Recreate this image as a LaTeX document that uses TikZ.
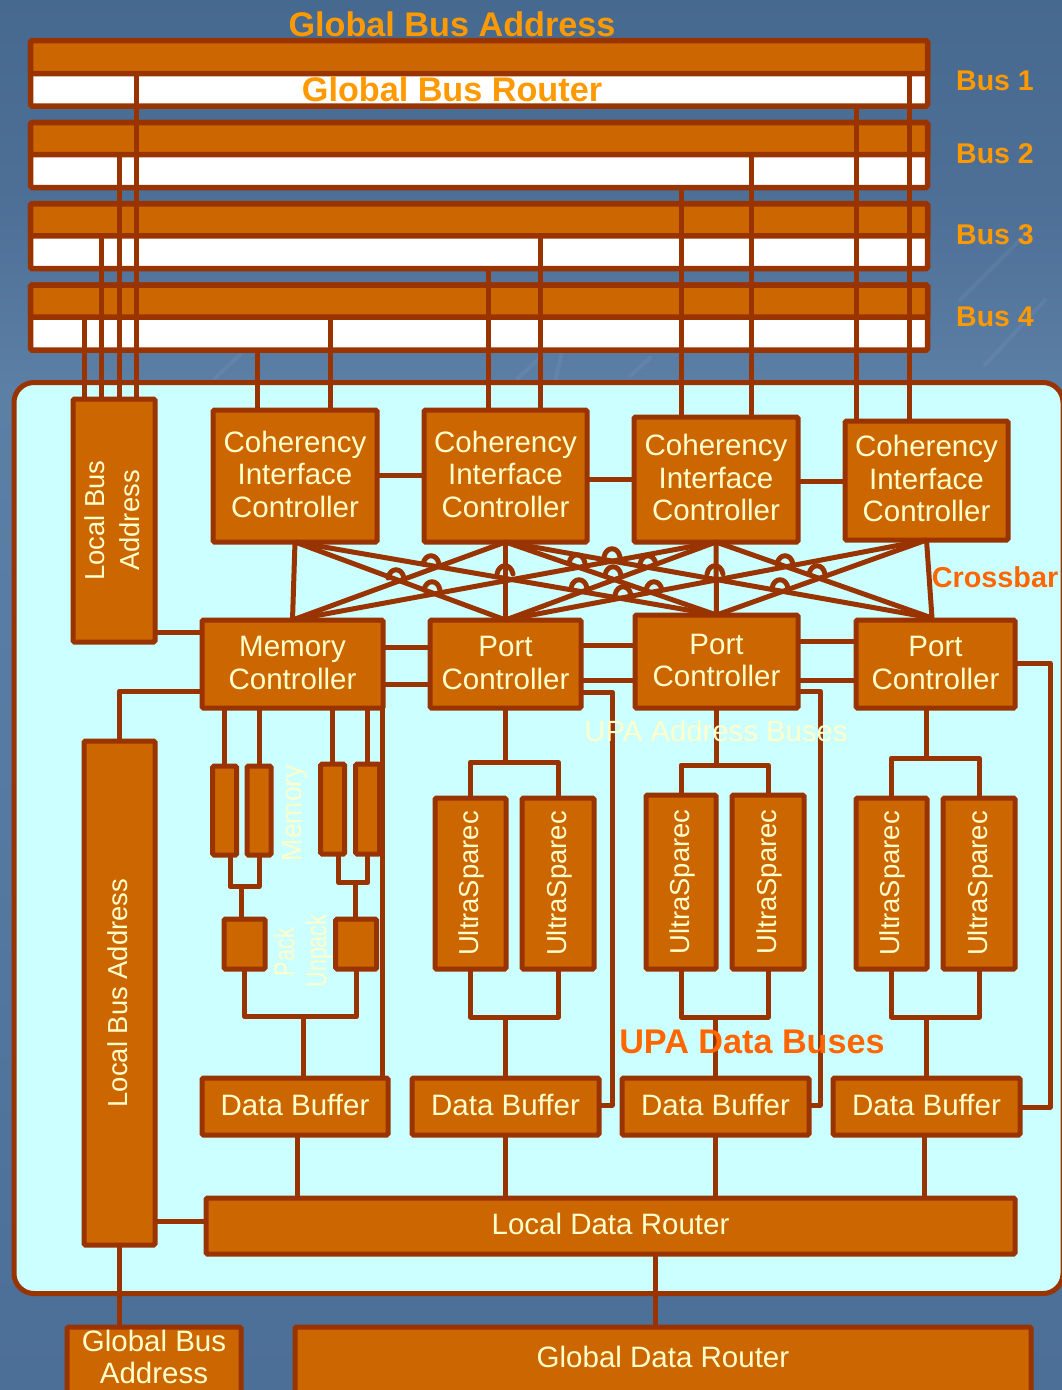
\documentclass[tikz,border=0pt]{standalone}
\usepackage{fontspec}
\setmainfont{Liberation Sans}
\definecolor{brd}{HTML}{993300}
\definecolor{org}{HTML}{CC6600}
\definecolor{pale}{HTML}{FFFFCC}
\definecolor{cyanp}{HTML}{CCFFFF}
\definecolor{lab}{HTML}{FF9900}
\definecolor{labd}{HTML}{FF6600}
\pgfdeclareverticalshading{skybg}{100bp}{
  rgb(0bp)=(0.298,0.435,0.592);
  rgb(25bp)=(0.298,0.435,0.592);
  rgb(30bp)=(0.306,0.443,0.600);
  rgb(47.5bp)=(0.337,0.478,0.635);
  rgb(61bp)=(0.361,0.498,0.651);
  rgb(67.5bp)=(0.306,0.439,0.592);
  rgb(75bp)=(0.275,0.412,0.561);
  rgb(100bp)=(0.275,0.412,0.561)}
\tikzset{
  x=1pt,y=-1pt,
  box/.style={draw=brd,fill=org,line width=5pt,rounded corners=1.5pt,inner sep=0pt,outer sep=0pt,text=pale,align=center,font=\fontsize{29.5}{32.5}\selectfont},
  busw/.style={draw=brd,fill=white,line width=5.5pt,rounded corners=1.5pt,inner sep=0pt,outer sep=0pt},
  busb/.style={draw=brd,fill=org,line width=5.5pt,rounded corners=1.5pt,inner sep=0pt,outer sep=0pt},
  wire/.style={draw=brd,line width=5pt,line join=round},
  xbar/.style={draw=brd,line width=5pt,line join=round},
  hophalf/.style={draw=brd,line width=5pt,line cap=round},
  title/.style={text=lab,font=\bfseries\fontsize{34.2}{38}\selectfont,inner sep=0pt},
  buslab/.style={text=lab,font=\bfseries\fontsize{28.5}{31}\selectfont,inner sep=0pt},
  hot/.style={text=labd,font=\bfseries\fontsize{28.8}{31}\selectfont,inner sep=0pt},
  paletext/.style={text=pale,font=\fontsize{29.3}{33}\selectfont,inner sep=0pt},
  streak/.style={draw=white,opacity=.05,line width=4pt,line cap=round},
}
\newcommand{\hophere}[2]{\draw[hophalf] ({#1-8},{#2+1}) .. controls ({#1-6},{#2-10}) and ({#1+6},{#2-10}) .. ({#1+8},{#2+1});}
\newcommand{\boxtext}[1]{\raisebox{-2.3pt}[\height][\depth]{\begin{tabular}{@{}c@{}}#1\end{tabular}}}
\newcommand{\sidetext}[1]{\rotatebox{90}{\fontsize{27.4}{35}\selectfont\raisebox{-1.3pt}[\height][\depth]{\begin{tabular}{@{}c@{}}#1\end{tabular}}}}
\begin{document}
\begin{tikzpicture}
\useasboundingbox (0,0) rectangle (1062,1390);
\clip (0,0) rectangle (1062,1390);
\shade[shading=skybg] (0,0) rectangle (1062,1390);
% mottled sky
\draw[streak] (215,378) -- (240,355);
\draw[streak] (518,378) -- (540,358);
\draw[streak] (555,382) -- (562,352);
\draw[streak] (630,376) -- (650,358);
\draw[streak] (960,300) -- (1030,230);
\draw[streak] (985,365) -- (1045,300);
% panel
\node[draw=brd,fill=cyanp,line width=5pt,rounded corners=20pt,inner sep=0pt,outer sep=0pt,minimum width=1049pt,minimum height=911pt] (panel) at (538.5,838) {};
% buses
\node[busw,minimum width=897pt,minimum height=65pt] (busA) at (479,73.5) {};
\node[busb,minimum width=897pt,minimum height=33pt] (busAt) at (479,57.2) {};
\node[busw,minimum width=897pt,minimum height=65pt] (busB) at (479,155) {};
\node[busb,minimum width=897pt,minimum height=32pt] (busBt) at (479,138.7) {};
\node[busw,minimum width=897pt,minimum height=65pt] (busC) at (479,236.2) {};
\node[busb,minimum width=897pt,minimum height=32pt] (busCt) at (479,219.9) {};
\node[busw,minimum width=897pt,minimum height=65pt] (busD) at (479,317.5) {};
\node[busb,minimum width=897pt,minimum height=32pt] (busDt) at (479,301.2) {};
% boxes
\node[box,minimum width=82pt,minimum height=243pt] (lbaT) at (114,520.5) {\sidetext{Local Bus\\Address}};
\node[box,minimum width=164pt,minimum height=132pt] (cicA) at (295,476) {\boxtext{Coherency\\Interface\\Controller}};
\node[box,minimum width=163pt,minimum height=132pt] (cicB) at (505.5,476) {\boxtext{Coherency\\Interface\\Controller}};
\node[box,minimum width=164pt,minimum height=125pt] (cicC) at (716,479.5) {\boxtext{Coherency\\Interface\\Controller}};
\node[box,minimum width=163pt,minimum height=119pt] (cicD) at (926.5,480.5) {\boxtext{Coherency\\Interface\\Controller}};
\node[box,minimum width=181pt,minimum height=88pt] (mc) at (292.5,664) {\boxtext{Memory\\Controller}};
\node[box,minimum width=151pt,minimum height=88pt] (ptA) at (505.5,664) {\boxtext{Port\\Controller}};
\node[box,minimum width=163pt,minimum height=93pt] (ptB) at (716.5,661.5) {\boxtext{Port\\Controller}};
\node[box,minimum width=159pt,minimum height=88pt] (ptC) at (935.5,664) {\boxtext{Port\\Controller}};
\node[box,minimum width=71pt,minimum height=504pt] (lbaB) at (119.5,993) {\sidetext{Local Bus Address}};
\node[box,minimum width=24pt,minimum height=89pt] (mA) at (224.7,810.5) {};
\node[box,minimum width=24pt,minimum height=89pt] (mB) at (259,810.5) {};
\node[box,minimum width=24pt,minimum height=90pt] (mC) at (332.7,809) {};
\node[box,minimum width=24pt,minimum height=90pt] (mD) at (367.7,809) {};
\node[box,minimum width=41pt,minimum height=50pt] (pk) at (244.5,944) {};
\node[box,minimum width=41pt,minimum height=50pt] (upk) at (356.2,944) {};
\node[box,minimum width=71pt,minimum height=171pt] (uA) at (470.5,883.5) {\sidetext{UltraSparec}};
\node[box,minimum width=72pt,minimum height=171pt] (uB) at (558,883.5) {\sidetext{UltraSparec}};
\node[box,minimum width=70pt,minimum height=174pt] (uC) at (681,882) {\sidetext{UltraSparec}};
\node[box,minimum width=72pt,minimum height=174pt] (uD) at (768,882) {\sidetext{UltraSparec}};
\node[box,minimum width=71pt,minimum height=171pt] (uE) at (891.5,883.5) {\sidetext{UltraSparec}};
\node[box,minimum width=72pt,minimum height=171pt] (uF) at (979,883.5) {\sidetext{UltraSparec}};
\node[box,minimum width=186pt,minimum height=57pt] (dbA) at (295,1106.5) {\boxtext{Data Buffer}};
\node[box,minimum width=187pt,minimum height=57pt] (dbB) at (505.5,1106.5) {\boxtext{Data Buffer}};
\node[box,minimum width=187pt,minimum height=57pt] (dbC) at (715.5,1106.5) {\boxtext{Data Buffer}};
\node[box,minimum width=187pt,minimum height=57pt] (dbD) at (926.5,1106.5) {\boxtext{Data Buffer}};
\node[box,minimum width=809pt,minimum height=56pt] (ldr) at (610.5,1226) {\boxtext{Local Data Router}};
\node[box,minimum width=174pt,minimum height=70pt] (gba) at (154,1362) {\raisebox{1pt}[\height][\depth]{\begin{tabular}{@{}c@{}}Global Bus\\Address\end{tabular}}};
\node[box,minimum width=736pt,minimum height=70pt] (gdr) at (663,1362) {\raisebox{5pt}[\height][\depth]{Global Data Router}};
% bus to controller wires
\draw[wire] (busDt.south -| 84.5,0) -- (lbaT.north -| 84.5,0);
\draw[wire] (busCt.south -| 101.5,0) -- (lbaT.north -| 101.5,0);
\draw[wire] (busBt.south -| 119,0) -- (lbaT.north -| 119,0);
\draw[wire] (busAt.south -| 136,0) -- (lbaT.north -| 136,0);
\draw[wire] (busD.south -| 257.5,0) -- (cicA.north -| 257.5,0);
\draw[wire] (busDt.south -| 330,0) -- (cicA.north -| 330,0);
\draw[wire] (busC.south -| 488,0) -- (cicB.north -| 488,0);
\draw[wire] (busCt.south -| 540,0) -- (cicB.north -| 540,0);
\draw[wire] (busB.south -| 681,0) -- (cicC.north -| 681,0);
\draw[wire] (busBt.south -| 751,0) -- (cicC.north -| 751,0);
\draw[wire] (busA.south -| 856,0) -- (cicD.north -| 856,0);
\draw[wire] (busAt.south -| 909,0) -- (cicD.north -| 909,0);
% controller links
\draw[wire] (cicA.east |- 0,475) -- (cicB.west |- 0,475);
\draw[wire] (cicB.east |- 0,479) -- (cicC.west |- 0,479);
\draw[wire] (cicC.east |- 0,481) -- (cicD.west |- 0,481);
\draw[wire] (lbaT.east |- 0,632) -- (mc.west |- 0,632);
\draw[wire] (mc.east |- 0,647) -- (ptA.west |- 0,647);
\draw[wire] (mc.east |- 0,684) -- (ptA.west |- 0,684);
\draw[wire] (ptA.east |- 0,645) -- (ptB.west |- 0,645);
\draw[wire] (ptA.east |- 0,680) -- (ptB.west |- 0,680);
\draw[wire] (ptB.east |- 0,641) -- (ptC.west |- 0,641);
\draw[wire] (ptB.east |- 0,680) -- (ptC.west |- 0,680);
% crossbar
\coordinate (ptCtop) at (932,618);
\draw[xbar] (cicA.south) -- (mc.north);
\draw[xbar] (cicA.south) -- (ptA.north);
\draw[xbar] (cicA.south) -- (ptB.north);
\draw[xbar] (cicB.south) -- (mc.north);
\draw[xbar] (cicB.south) -- (ptA.north);
\draw[xbar] (cicB.south) -- (ptB.north);
\draw[xbar] (cicB.south) -- (ptCtop);
\draw[xbar] (cicC.south) -- (mc.north);
\draw[xbar] (cicC.south) -- (ptA.north);
\draw[xbar] (cicC.south) -- (ptB.north);
\draw[xbar] (cicC.south) -- (ptCtop);
\draw[xbar] (cicD.south) -- (ptA.north);
\draw[xbar] (cicD.south) -- (ptB.north);
\draw[xbar] (cicD.south) -- (ptCtop);
\hophere{431}{563}\hophere{396}{577}\hophere{432}{589}\hophere{505}{573}
\hophere{577}{562}\hophere{612}{556}\hophere{613}{574}\hophere{579}{587}
\hophere{623}{594}\hophere{648}{563}\hophere{654}{589}\hophere{715}{573}
\hophere{785}{563}\hophere{817}{573}\hophere{780}{587}
% memory wires
\draw[wire] (mc.south -| 224.7,0) -- (mA.north);
\draw[wire] (mc.south -| 259,0) -- (mB.north);
\draw[wire] (mc.south -| 332.7,0) -- (mC.north);
\draw[wire] (mc.south -| 367.7,0) -- (mD.north);
\draw[wire] (mc.south -| 382,0) -- (dbA.north -| 382,0);
\draw[wire] (mA.south -| 230,0) |- (mB.south |- 0,886.7) -- (mB.south);
\draw[wire] (pk.north -| 241.7,0) -- (241.7,886.7);
\draw[wire] (mC.south -| 338.7,0) |- (mD.south |- 0,882.7) -- (mD.south);
\draw[wire] (upk.north -| 355.7,0) -- (355.7,882.7);
\draw[wire] (pk.south) |- (upk.south |- 0,1016.7) -- (upk.south);
\draw[wire] (dbA.north -| 303,0) -- (303,1016.7);
% port wires
\draw[wire] (ptA.south) -- (505.5,762);
\draw[wire] (uA.north) |- (uB.north |- 0,762) -- (uB.north);
\draw[wire] (uA.south) |- (uB.south |- 0,1017) -- (uB.south);
\draw[wire] (dbB.north) -- (505.5,1017);
\draw[wire] (ptB.south) -- (716.5,765);
\draw[wire] (uC.north) |- (uD.north |- 0,765) -- (uD.north);
\draw[wire] (uC.south) |- (uD.south |- 0,1017) -- (uD.south);
\draw[wire] (dbC.north) -- (715.5,1017);
\draw[wire] (ptC.south -| 926,0) -- (926,758);
\draw[wire] (uE.north) |- (uF.north |- 0,758) -- (uF.north);
\draw[wire] (uE.south) |- (uF.south |- 0,1017) -- (uF.south);
\draw[wire] (dbD.north -| 926,0) -- (926,1017);
% data buses on the right
\draw[wire] (ptA.east |- 0,692) -| (612,1105) -- (dbB.east |- 0,1105);
\draw[wire] (ptB.east |- 0,691) -| (820,1105) -- (dbC.east |- 0,1105);
\draw[wire] (ptC.east |- 0,663) -| (1050,1107) -- (dbD.east |- 0,1107);
% lower
\draw[wire] (mc.west |- 0,691) -| (lbaB.north);
\draw[wire] (dbA.south -| 297,0) -- (ldr.north -| 297,0);
\draw[wire] (dbB.south) -- (ldr.north -| 505.5,0);
\draw[wire] (dbC.south) -- (ldr.north -| 715.5,0);
\draw[wire] (dbD.south -| 924,0) -- (ldr.north -| 924,0);
\draw[wire] (lbaB.east |- 0,1221) -- (ldr.west |- 0,1221);
\draw[wire] (lbaB.south) -- (gba.north -| lbaB.south);
\draw[wire] (ldr.south -| 655,0) -- (gdr.north -| 655,0);
% labels
\node[title] (t1) at (452,24) {Global Bus Address};
\node[title] (t2) at (452,89) {Global Bus Router};
\node[buslab] (b1) at (995,81) {Bus 1};
\node[buslab] (b2) at (995,154) {Bus 2};
\node[buslab] (b3) at (995,235) {Bus 3};
\node[buslab] (b4) at (995,317) {Bus 4};
\node[hot] (xb) at (995,577) {Crossbar};
\node[hot,font=\bfseries\fontsize{34.2}{38}\selectfont] (upad) at (752,1042) {UPA Data Buses};
\node[paletext] (upaa) at (716,731) {UPA Address Buses};
\node[paletext,rotate=90] (mem) at (295,813) {\fontsize{28}{33}\selectfont\scalebox{.95}[1]{Memory}};
\node[paletext,rotate=90] (pl) at (284,952) {\fontsize{24}{28}\selectfont\scalebox{.9}[1.2]{Pack}};
\node[paletext,rotate=90] (ul) at (319,951) {\fontsize{24}{28}\selectfont\scalebox{.89}[1.2]{Unpack}};
\end{tikzpicture}
\end{document}
